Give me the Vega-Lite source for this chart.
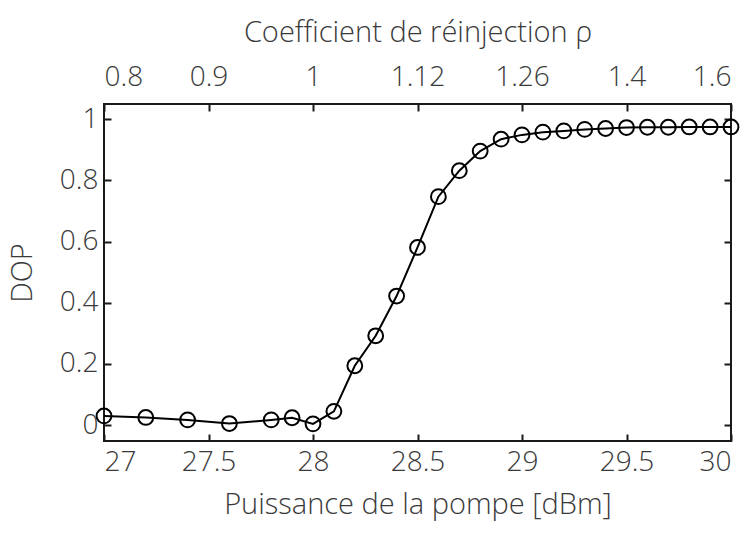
{
  "$schema": "https://vega.github.io/schema/vega-lite/v6.json",
  "autosize": {"type": "none"},
  "width": 627,
  "height": 337,
  "padding": {"left": 104, "top": 104, "right": 20, "bottom": 96},
  "background": "white",
  "config": {
    "view": {"stroke": "#1a1a1a", "strokeWidth": 2},
    "font": "Open Sans",
    "axis": {
      "domain": false,
      "grid": false,
      "ticks": true,
      "tickColor": "#1a1a1a",
      "tickWidth": 2,
      "tickSize": -7,
      "format": "~g",
      "labelFont": "Open Sans",
      "labelFontWeight": 300,
      "labelFontSize": 28,
      "labelColor": "#3a3a3a",
      "titleFont": "Open Sans",
      "titleFontWeight": 300,
      "titleFontSize": 29,
      "titleColor": "#3a3a3a"
    }
  },
  "data": {
    "values": [
      {"P": 27.0, "DOP": 0.030},
      {"P": 27.2, "DOP": 0.025},
      {"P": 27.4, "DOP": 0.017},
      {"P": 27.6, "DOP": 0.005},
      {"P": 27.8, "DOP": 0.017},
      {"P": 27.9, "DOP": 0.024},
      {"P": 28.0, "DOP": 0.004},
      {"P": 28.1, "DOP": 0.045},
      {"P": 28.2, "DOP": 0.194},
      {"P": 28.3, "DOP": 0.292},
      {"P": 28.4, "DOP": 0.422},
      {"P": 28.5, "DOP": 0.581},
      {"P": 28.6, "DOP": 0.747},
      {"P": 28.7, "DOP": 0.832},
      {"P": 28.8, "DOP": 0.896},
      {"P": 28.9, "DOP": 0.935},
      {"P": 29.0, "DOP": 0.949},
      {"P": 29.1, "DOP": 0.958},
      {"P": 29.2, "DOP": 0.962},
      {"P": 29.3, "DOP": 0.967},
      {"P": 29.4, "DOP": 0.970},
      {"P": 29.5, "DOP": 0.973},
      {"P": 29.6, "DOP": 0.974},
      {"P": 29.7, "DOP": 0.974},
      {"P": 29.8, "DOP": 0.975},
      {"P": 29.9, "DOP": 0.975},
      {"P": 30.0, "DOP": 0.975}
    ]
  },
  "resolve": {"axis": {"x": "independent", "y": "independent"}},
  "layer": [
    {
      "mark": {"type": "line", "color": "#000000", "strokeWidth": 2, "clip": false},
      "encoding": {
        "x": {
          "field": "P", "type": "quantitative",
          "scale": {"domain": [27, 30], "nice": false, "zero": false},
          "axis": {
            "orient": "bottom",
            "title": "Puissance de la pompe [dBm]",
            "values": [27, 27.5, 28, 28.5, 29, 29.5, 30],
            "labelPadding": 14,
            "titlePadding": 14
          }
        },
        "y": {
          "field": "DOP", "type": "quantitative",
          "scale": {"domain": [-0.052, 1.05], "nice": false, "zero": false},
          "axis": {
            "orient": "left",
            "title": "DOP",
            "values": [0, 0.2, 0.4, 0.6, 0.8, 1],
            "labelPadding": 13,
            "titlePadding": 22
          }
        }
      }
    },
    {
      "mark": {"type": "point", "shape": "circle", "filled": false, "color": "#000000", "strokeWidth": 2, "size": 220, "opacity": 1, "clip": false},
      "encoding": {
        "x": {
          "field": "P", "type": "quantitative",
          "scale": {"domain": [27, 30], "nice": false, "zero": false},
          "axis": {
            "orient": "top",
            "title": "Coefficient de réinjection ρ",
            "values": [27, 27.5, 28, 28.5, 29, 29.5, 30],
            "labelExpr": "['0.8','0.9','1','1.12','1.26','1.4','1.6'][round((datum.value-27)*2)]",
            "labelPadding": 20,
            "titlePadding": 16
          }
        },
        "y": {
          "field": "DOP", "type": "quantitative",
          "scale": {"domain": [-0.052, 1.05], "nice": false, "zero": false},
          "axis": {
            "orient": "right",
            "title": null,
            "labels": false,
            "values": [0, 0.2, 0.4, 0.6, 0.8, 1]
          }
        }
      }
    }
  ]
}
